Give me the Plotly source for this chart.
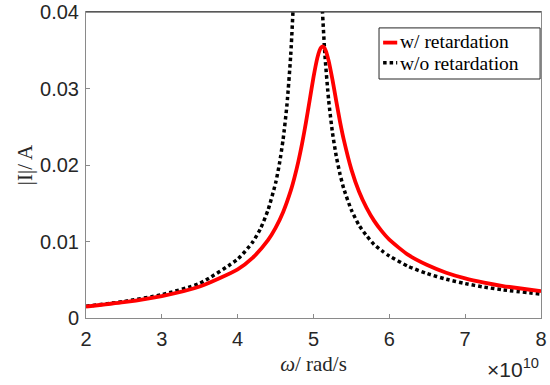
import plotly.graph_objects as go

# omega in units of 1e10 rad/s
omega_ret = [2.0, 2.5, 3.0, 3.5, 4.0, 4.2, 4.4, 4.5, 4.6, 4.7, 4.75, 4.8, 4.85, 4.9, 4.95,
             5.0, 5.05, 5.08, 5.1, 5.12, 5.14, 5.16, 5.2, 5.25, 5.3, 5.35, 5.4, 5.5, 5.6,
             5.7, 5.8, 5.9, 6.0, 6.25, 6.5, 6.75, 7.0, 7.25, 7.5, 8.0]
current_ret = [0.00149, 0.00207, 0.00287, 0.00412, 0.00637, 0.00790, 0.01017, 0.01177,
               0.01386, 0.01664, 0.01840, 0.02044, 0.02282, 0.02553, 0.02850, 0.03148,
               0.03397, 0.03498, 0.03537, 0.03549, 0.03537, 0.03499, 0.03361, 0.03115,
               0.02836, 0.02565, 0.02328, 0.01940, 0.01653, 0.01439, 0.01269, 0.01135,
               0.01024, 0.00824, 0.00692, 0.00592, 0.00518, 0.00463, 0.00418, 0.00350]

omega_noret = [2.0, 2.5, 3.0, 3.5, 4.0, 4.2, 4.3, 4.4, 4.5, 4.55, 4.6, 4.65, 4.7, 4.75,
               4.8, 4.85, 5.0, 5.05, 5.1, 5.15, 5.2, 5.25, 5.3, 5.35, 5.4, 5.5, 5.6, 5.7,
               5.8, 5.9, 6.0, 6.25, 6.5, 6.75, 7.0, 7.25, 7.5, 8.0]
current_noret = [0.00153, 0.00216, 0.00306, 0.00454, 0.00770, 0.00995, 0.01166, 0.01410,
                 0.01763, 0.02012, 0.02340, 0.02788, 0.03443, 0.04474, 0.06377, 0.09030,
                 0.08300, 0.06050, 0.04380, 0.03446, 0.02845, 0.02424, 0.02116, 0.01878,
                 0.01689, 0.01410, 0.01213, 0.01075, 0.00960, 0.00880, 0.00810, 0.00675,
                 0.00580, 0.00507, 0.00450, 0.00404, 0.00368, 0.00312]

x_ticks = [2, 3, 4, 5, 6, 7, 8]
y_ticks = [0, 0.01, 0.02, 0.03, 0.04]
y_tick_labels = ["0", "0.01", "0.02", "0.03", "0.04"]
legend_names = ["w/ retardation", "w/o retardation"]

SANS = "Liberation Sans, Arial, sans-serif"
SERIF = "Liberation Serif, Times New Roman, serif"

fig = go.Figure()
fig.add_trace(go.Scatter(x=omega_noret, y=current_noret, mode="lines",
                         line=dict(color="black", width=3.5, dash="3.5px,3px", shape="spline", smoothing=0.6),
                         name=legend_names[1], showlegend=False))
fig.add_trace(go.Scatter(x=omega_ret, y=current_ret, mode="lines",
                         line=dict(color="#ff0000", width=3.8, shape="spline", smoothing=0.6),
                         name=legend_names[0], showlegend=False))

axis_common = dict(showgrid=False, zeroline=False, showline=True, linecolor="#8a8a8a",
                   linewidth=1, mirror=True, ticks="inside", ticklen=4, tickcolor="#8a8a8a",
                   automargin=False,
                   tickfont=dict(family=SANS, size=20, color="#262626"))

fig.update_xaxes(range=[2, 8], tickvals=x_ticks, ticktext=[str(v) for v in x_ticks],
                 ticklabelstandoff=3,
                 title=dict(text="<i>ω</i>/ rad/s", font=dict(family=SERIF, size=21, color="#262626"),
                            standoff=7),
                 **axis_common)
fig.update_yaxes(range=[0, 0.04], tickvals=y_ticks, ticktext=y_tick_labels,
                 ticklabelstandoff=2,
                 title=dict(text="|I|/ A", font=dict(family=SERIF, size=21, color="#262626"),
                            standoff=1),
                 **axis_common)

shapes = [
    # top frame line (darker as in reference)
    dict(type="line", xref="paper", yref="paper", x0=0, x1=1, y0=1, y1=1,
         line=dict(color="#262626", width=1)),
    # legend box
    dict(type="rect", xref="paper", yref="paper", x0=0.644, x1=0.998, y0=0.781, y1=0.948,
         line=dict(color="#262626", width=1), fillcolor="white", layer="above"),
    dict(type="line", xref="paper", yref="paper", x0=0.653, x1=0.684, y0=0.900, y1=0.900,
         line=dict(color="#ff0000", width=3.8), layer="above"),
    dict(type="line", xref="paper", yref="paper", x0=0.653, x1=0.684, y0=0.834, y1=0.834,
         line=dict(color="black", width=3.5, dash="3.5px,3px"), layer="above"),
]

annotations = [
    dict(xref="paper", yref="paper", x=0.688, y=0.902, xanchor="left", yanchor="middle",
         text=legend_names[0], showarrow=False, borderpad=0,
         font=dict(family=SERIF, size=19.5, color="black")),
    dict(xref="paper", yref="paper", x=0.688, y=0.832, xanchor="left", yanchor="middle",
         text=legend_names[1], showarrow=False, borderpad=0,
         font=dict(family=SERIF, size=19.5, color="black")),
    dict(xref="paper", yref="paper", x=1.0, y=-0.165, xanchor="right", yanchor="middle",
         text="×10<sup>10</sup>", showarrow=False,
         font=dict(family=SANS, size=21, color="#262626")),
]

fig.update_layout(width=550, height=385, margin=dict(l=86, r=9, t=12, b=67),
                  paper_bgcolor="white", plot_bgcolor="white",
                  shapes=shapes, annotations=annotations, showlegend=False)

fig.write_html("out.html")
